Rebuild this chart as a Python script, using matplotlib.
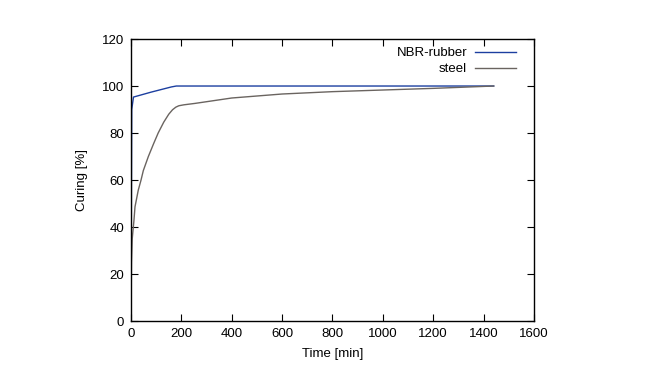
import numpy as np
import matplotlib.pyplot as plt

plt.rcParams['font.family'] = ['Liberation Sans', 'DejaVu Sans']
plt.rcParams['font.size'] = 9.5

# curing data
t_nbr = [0, 3, 10, 40, 80, 120, 160, 180, 1440]
c_nbr = [0, 90, 95.3, 96.2, 97.4, 98.5, 99.6, 100, 100]

t_steel = [0, 2, 5, 12, 16, 29, 40, 49, 69, 90, 108, 130, 150, 165, 178,
           190, 210, 254, 400, 600, 800, 1000, 1200, 1440]
c_steel = [0, 25, 35, 43, 48.6, 55.7, 60, 64, 70, 75.5, 80, 84.6, 88.0, 89.9, 91.0,
           91.6, 92.0, 92.6, 94.9, 96.6, 97.6, 98.3, 99.0, 100]

fig = plt.figure(figsize=(6.49, 3.77), dpi=100)
ax = fig.add_axes([0.2018, 0.1485, 0.621, 0.748])

ax.plot(t_nbr, c_nbr, color='#1c3fa0', linewidth=1.0, label='NBR-rubber')
ax.plot(t_steel, c_steel, color='#6a6460', linewidth=1.0, label='steel')

ax.set_xlim(0, 1600)
ax.set_ylim(0, 120)
ax.set_xticks(np.arange(0, 1601, 200))
ax.set_yticks(np.arange(0, 121, 20))
ax.tick_params(direction='in', top=True, right=True, length=5, width=0.8, pad=5)
for s in ax.spines.values():
    s.set_linewidth(1.0)

ax.set_xlabel("Time [min]", labelpad=6)
ax.set_ylabel("Curing [%]", labelpad=10)

ax.legend(loc='upper right', frameon=False, markerfirst=False,
          handlelength=3.1, handletextpad=0.6, labelspacing=0.3,
          borderaxespad=0.2, bbox_to_anchor=(0.975, 1.0))

fig.savefig("out.png", dpi=100)
